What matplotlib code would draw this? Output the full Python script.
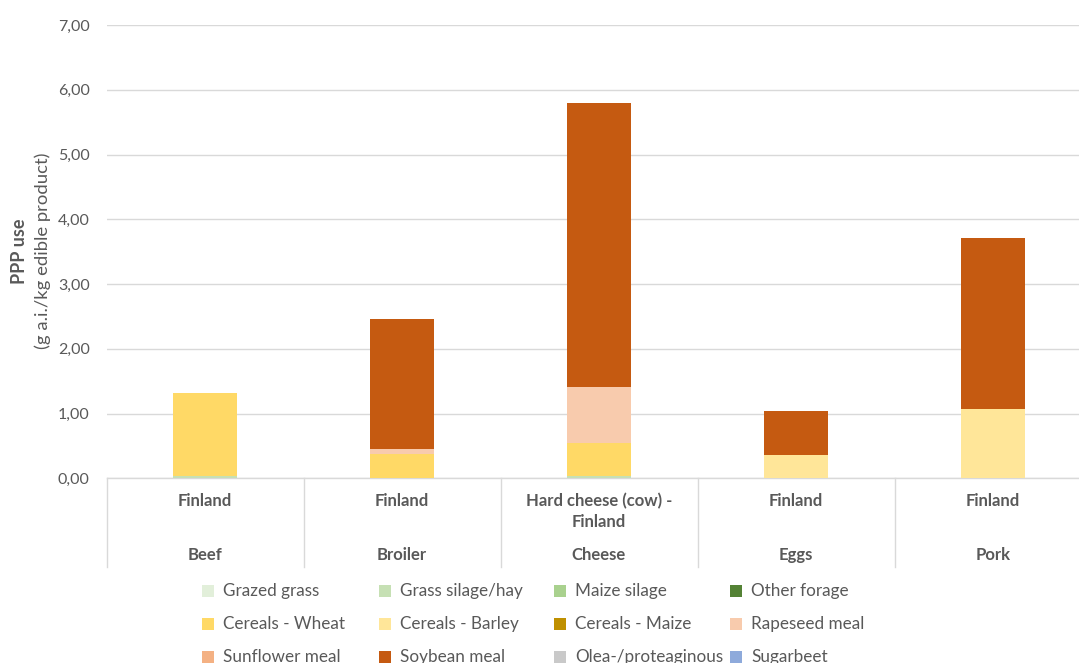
import matplotlib
matplotlib.use("Agg")
import matplotlib.pyplot as plt
import matplotlib.transforms as mtransforms
from matplotlib.patches import Rectangle
import numpy as np

plt.rcParams["font.family"] = ["Lato", "DejaVu Sans"]

# categories (two-level axis)
products = ["Beef", "Broiler", "Cheese", "Eggs", "Pork"]
origins = ["Finland", "Finland", "Hard cheese (cow) -\nFinland", "Finland", "Finland"]

# PPP use per feed component (g a.i./kg edible product)
feed_names = [
    "Grazed grass", "Grass silage/hay", "Maize silage", "Other forage",
    "Cereals - Wheat", "Cereals - Barley", "Cereals - Maize", "Rapeseed meal",
    "Sunflower meal", "Soybean meal", "Olea-/proteaginous", "Sugarbeet",
]
grazed_grass = [0.0, 0.0, 0.0, 0.0, 0.0]
grass_silage = [0.035, 0.0, 0.035, 0.0, 0.0]
maize_silage = [0.0, 0.0, 0.0, 0.0, 0.0]
other_forage = [0.0, 0.0, 0.0, 0.0, 0.0]
wheat = [1.275, 0.38, 0.51, 0.0, 0.0]
barley = [0.0, 0.0, 0.0, 0.355, 1.07]
maize = [0.0, 0.0, 0.0, 0.0, 0.0]
rapeseed = [0.0, 0.07, 0.865, 0.0, 0.0]
sunflower = [0.0, 0.0, 0.0, 0.0, 0.0]
soybean = [0.0, 2.015, 4.39, 0.69, 2.64]
olea = [0.0, 0.0, 0.0, 0.0, 0.0]
sugarbeet = [0.0, 0.0, 0.0, 0.0, 0.0]

feed_values = [grazed_grass, grass_silage, maize_silage, other_forage,
               wheat, barley, maize, rapeseed,
               sunflower, soybean, olea, sugarbeet]
feed_colors = ["#E2EFDA", "#C6E0B4", "#A9D18E", "#548235",
               "#FFD966", "#FFE699", "#BF9000", "#F8CBAD",
               "#F4B183", "#C55A11", "#C9C9C9", "#8EAADB"]

TXT = "#595959"
GRID = "#D9D9D9"
W, H = 1079, 663

fig = plt.figure(figsize=(W / 100, H / 100), dpi=100)
ax_left, ax_bottom = 106.5, 478.3
ax_top = 25.0
ax = fig.add_axes([ax_left / W, (H - ax_bottom) / H, 985 / W, (ax_bottom - ax_top) / H])

x = np.arange(len(products))
bottom = np.zeros(len(products))
for vals, color in zip(feed_values, feed_colors):
    v = np.array(vals)
    ax.bar(x, v, width=0.325, bottom=bottom, color=color, linewidth=0, zorder=3)
    bottom += v

ax.set_xlim(-0.5, len(products) - 0.5)
ax.set_ylim(0, 7)
ax.set_yticks(np.arange(0, 8, 1))
ax.set_yticklabels([f"{t:.2f}".replace(".", ",") for t in np.arange(0, 8, 1)])
ax.tick_params(axis="y", length=0, pad=12, labelsize=11.5, labelcolor=TXT)
ax.set_xticks([])
ax.grid(True, axis="y", color=GRID, linewidth=1, zorder=0)
for side in ("top", "right", "left"):
    ax.spines[side].set_visible(False)
ax.spines["bottom"].set_color(GRID)
ax.spines["bottom"].set_linewidth(1)

# y-axis title (two lines)
ymid = 1 - 251 / H
fig.text(19.5 / W, ymid, "PPP use", rotation=90, ha="center", va="center",
         fontsize=13, fontweight="bold", color=TXT)
fig.text(43 / W, ymid, "(g a.i./kg edible product)", rotation=90, ha="center",
         va="center", fontsize=13.3, color=TXT)

# two-level category axis
ax_h = ax_bottom - ax_top
trans = mtransforms.blended_transform_factory(ax.transData, ax.transAxes)
sep_bottom = -(567 - ax_bottom) / ax_h
for b in np.arange(-0.5, len(products), 1.0):
    ax.plot([b, b], [0, sep_bottom], transform=trans, color=GRID, linewidth=1,
            clip_on=False, zorder=1)
for i, (prod, orig) in enumerate(zip(products, origins)):
    ax.text(i, -(493 - ax_bottom) / ax_h, orig, transform=trans, ha="center",
            va="top", fontsize=12, fontweight="bold", color=TXT, linespacing=1.4)
    ax.text(i, -(555 - ax_bottom) / ax_h, prod, transform=trans, ha="center",
            va="center", fontsize=12, fontweight="bold", color=TXT)

# legend laid out in rows of four
col_x = [202, 379, 554, 730]
row_y = [591, 624, 657]
sq = 12
for k, (name, color) in enumerate(zip(feed_names, feed_colors)):
    r, c = divmod(k, 4)
    px, py = col_x[c], row_y[r]
    fig.patches.append(Rectangle((px / W, (H - py - sq / 2) / H), sq / W, sq / H,
                                 transform=fig.transFigure, facecolor=color,
                                 edgecolor="none"))
    fig.text((px + 21) / W, (H - py) / H, name, ha="left", va="center",
             fontsize=12.3, color=TXT)

fig.savefig("out.png", dpi=100)
